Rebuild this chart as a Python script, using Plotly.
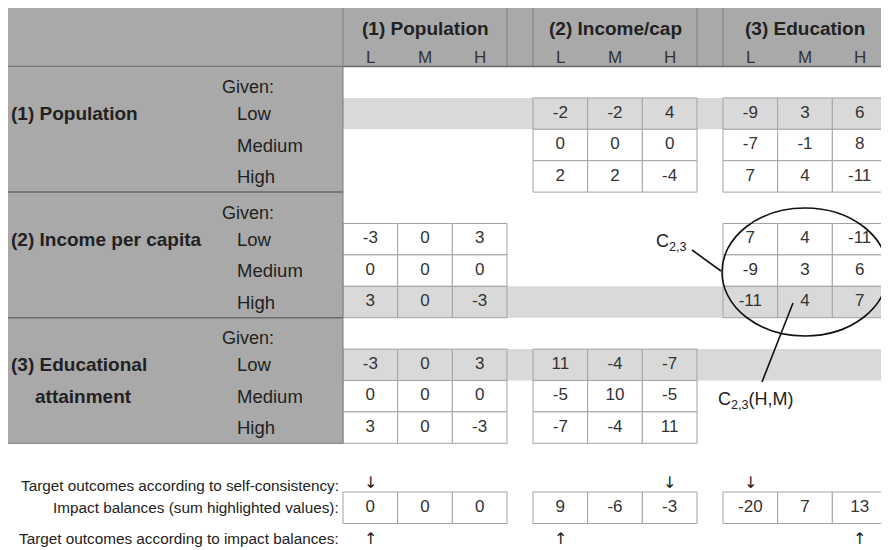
import plotly.graph_objects as go

# ---------------- data ----------------
col_groups = ["(1) Population", "(2) Income/cap", "(3) Education"]
col_levels = ["L", "M", "H"]
row_group_labels = [["(1) Population"], ["(2) Income per capita"], ["(3) Educational", "attainment"]]
given_levels = ["Low", "Medium", "High"]

# impacts of the given (row) descriptor on the impacted (column) descriptor
population_on_income = [[-2, -2, 4], [0, 0, 0], [2, 2, -4]]
population_on_education = [[-9, 3, 6], [-7, -1, 8], [7, 4, -11]]
income_on_population = [[-3, 0, 3], [0, 0, 0], [3, 0, -3]]
income_on_education = [[7, 4, -11], [-9, 3, 6], [-11, 4, 7]]
education_on_population = [[-3, 0, 3], [0, 0, 0], [3, 0, -3]]
education_on_income = [[11, -4, -7], [-5, 10, -5], [-7, -4, 11]]

highlighted_given = ["Low", "High", "Low"]          # per row group
impact_balances = [[0, 0, 0], [9, -6, -3], [-20, 7, 13]]
self_consistency_targets = ["L", "H", "L"]
impact_balance_targets = ["L", "L", "H"]

bottom_labels = ["Target outcomes according to self-consistency:",
                 "Impact balances (sum highlighted values):",
                 "Target outcomes according to impact balances:"]

blocks = {(0, 1): population_on_income, (0, 2): population_on_education,
          (1, 0): income_on_population, (1, 2): income_on_education,
          (2, 0): education_on_population, (2, 1): education_on_income}

# ---------------- geometry / style ----------------
W, H = 889, 550
PAGE = 8                      # default body margin of the html page
X0, XS, XE = 5, 343, 887
GX = [343, 533, 723]
CW = 164 / 3
YT, YH, RH = 4, 66.5, 31.4
BY0, BY1 = 492, 523.5

DARK = "#a9a9a9"
BAND = "#d9d9d9"
CELL_LINE = "#a3a3a3"
TXT = "#222222"
FONT = "Liberation Sans, Arial, sans-serif"


def cx(g, j):
    return GX[g] + CW * (j + 0.5)


def row_top(g, r):
    return YH + 4 * RH * g + RH * (1 + r)


shapes = []
annotations = []

# highlight bands
for g, lvl in enumerate(highlighted_given):
    r = given_levels.index(lvl)
    shapes.append(dict(type="rect", x0=XS, x1=XE, y0=row_top(g, r), y1=row_top(g, r) + RH,
                       fillcolor=BAND, line_width=0, layer="below"))

# matrix cells
cell_x, cell_y, cell_t = [], [], []
for (g, c), mat in blocks.items():
    hr = given_levels.index(highlighted_given[g])
    for r, row in enumerate(mat):
        for j, v in enumerate(row):
            y0 = row_top(g, r)
            shapes.append(dict(type="rect", x0=GX[c] + CW * j, x1=GX[c] + CW * (j + 1),
                               y0=y0, y1=y0 + RH,
                               fillcolor=BAND if r == hr else "white",
                               line=dict(color=CELL_LINE, width=1), layer="below"))
            cell_x.append(cx(c, j))
            cell_y.append(y0 + RH / 2)
            cell_t.append(str(v))

# impact balance cells
for c, vals in enumerate(impact_balances):
    for j, v in enumerate(vals):
        shapes.append(dict(type="rect", x0=GX[c] + CW * j, x1=GX[c] + CW * (j + 1),
                           y0=BY0, y1=BY1, fillcolor="white",
                           line=dict(color=CELL_LINE, width=1), layer="below"))
        cell_x.append(cx(c, j))
        cell_y.append((BY0 + BY1) / 2)
        cell_t.append(str(v))

# header band
shapes.append(dict(type="rect", x0=X0, x1=XE, y0=YT, y1=YH, fillcolor=DARK,
                   line_width=0, layer="below"))
for xv in [XS, GX[0] + 164, GX[1], GX[1] + 164, GX[2]]:
    shapes.append(dict(type="line", x0=xv, x1=xv, y0=YT, y1=YH,
                       line=dict(color="#808080", width=1), layer="below"))
shapes.append(dict(type="line", x0=X0, x1=XE, y0=YH, y1=YH,
                   line=dict(color="#6a6a6a", width=1.5), layer="below"))

# left panel
bottom = row_top(2, 3)
shapes.append(dict(type="rect", x0=X0, x1=XS, y0=YH, y1=bottom, fillcolor=DARK,
                   line=dict(color="#7a7a7a", width=1), layer="below"))
for g in (1, 2):
    yv = YH + 4 * RH * g
    shapes.append(dict(type="line", x0=X0, x1=XS, y0=yv, y1=yv,
                       line=dict(color="#6a6a6a", width=1.5), layer="below"))

# header texts
for g, name in enumerate(col_groups):
    annotations.append(dict(x=GX[g] + 82, y=28, text="<b>%s</b>" % name, showarrow=False,
                            font=dict(size=19, color=TXT, family=FONT)))
    for j, lv in enumerate(col_levels):
        annotations.append(dict(x=cx(g, j), y=57, text=lv, showarrow=False,
                                font=dict(size=17, color="#333333", family=FONT)))

# left panel texts
for g, lines in enumerate(row_group_labels):
    for k, line in enumerate(lines):
        annotations.append(dict(x=8.5 if k == 0 else 33, y=row_top(g, k) + RH / 2,
                                text="<b>%s</b>" % line, showarrow=False, xanchor="left",
                                font=dict(size=19, color=TXT, family=FONT)))
    annotations.append(dict(x=220, y=row_top(g, -1) + RH / 2 + 5, text="Given:",
                            showarrow=False, xanchor="left",
                            font=dict(size=18, color=TXT, family=FONT)))
    for r, lv in enumerate(given_levels):
        annotations.append(dict(x=235, y=row_top(g, r) + RH / 2, text=lv,
                                showarrow=False, xanchor="left",
                                font=dict(size=18.5, color=TXT, family=FONT)))

# bottom labels
for k, (lab, yv) in enumerate(zip(bottom_labels, [485, (BY0 + BY1) / 2, 538])):
    annotations.append(dict(x=341, y=yv, text=lab, showarrow=False, xanchor="right",
                            font=dict(size=15.3, color=TXT, family=FONT)))

# target arrows
for c, lv in enumerate(self_consistency_targets):
    annotations.append(dict(x=cx(c, col_levels.index(lv)), y=482, text="↓", showarrow=False,
                            font=dict(size=16, color=TXT, family="DejaVu Sans")))
for c, lv in enumerate(impact_balance_targets):
    annotations.append(dict(x=cx(c, col_levels.index(lv)), y=538, text="↑", showarrow=False,
                            font=dict(size=16, color=TXT, family="DejaVu Sans")))

# ellipse around C2,3 and labels
shapes.append(dict(type="circle", x0=722, x1=888, y0=208, y1=336,
                   line=dict(color="#111111", width=1.6), layer="above"))
shapes.append(dict(type="line", x0=692, y0=250, x1=721, y1=271,
                   line=dict(color="#111111", width=1.6), layer="above"))
shapes.append(dict(type="line", x0=762, y0=382, x1=793, y1=303,
                   line=dict(color="#111111", width=1.6), layer="above"))
annotations.append(dict(x=671, y=242, text="C<sub>2,3</sub>", showarrow=False,
                        font=dict(size=18, color=TXT, family=FONT)))
annotations.append(dict(x=716, y=400, text="C<sub>2,3</sub>(H,M)", showarrow=False,
                        xanchor="left", font=dict(size=18, color=TXT, family=FONT)))

fig = go.Figure()
fig.add_trace(go.Scatter(x=cell_x, y=cell_y, text=cell_t, mode="text",
                         textposition="middle center", hoverinfo="skip",
                         textfont=dict(size=17, color="#333333", family=FONT)))

fig.update_layout(width=W - PAGE, height=H - PAGE, margin=dict(l=0, r=0, t=0, b=0),
                  paper_bgcolor="white", plot_bgcolor="white", showlegend=False,
                  xaxis=dict(range=[PAGE, W], visible=False, fixedrange=True),
                  yaxis=dict(range=[H, PAGE], visible=False, fixedrange=True),
                  shapes=shapes, annotations=annotations)

fig.write_html("out.html")
